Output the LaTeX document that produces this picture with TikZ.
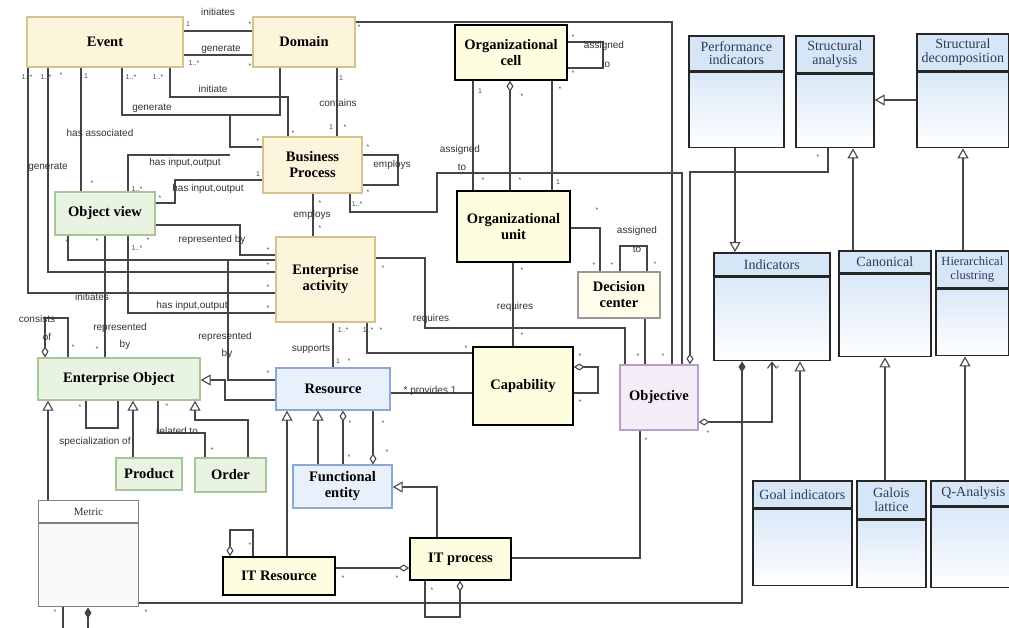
\documentclass[tikz,border=0pt]{standalone}
\usepackage{fontspec}
\setmainfont{Liberation Serif}
\newfontfamily\labelfont{Liberation Sans}
\usetikzlibrary{arrows.meta}

\definecolor{creamfill}{HTML}{FDF4DC}
\definecolor{creamline}{HTML}{D6C28E}
\definecolor{greenfill}{HTML}{E8F3E1}
\definecolor{greenline}{HTML}{A6C698}
\definecolor{bluefill}{HTML}{E8F0FB}
\definecolor{blueline}{HTML}{8CA9D5}
\definecolor{yelfill}{HTML}{FFFDDF}
\definecolor{purfill}{HTML}{F4ECF7}
\definecolor{purline}{HTML}{B6A0C6}
\definecolor{hdrfill}{HTML}{D7E6F7}
\definecolor{bodytop}{HTML}{DAE8F8}
\definecolor{clstext}{HTML}{2C3B5A}
\definecolor{wire}{HTML}{454545}

\tikzset{
  box/.style={rectangle, line width=1.4pt, inner sep=2pt, align=center,
    font=\fontsize{14.5}{16}\selectfont\bfseries},
  cream/.style={box, draw=creamline, fill=creamfill},
  green/.style={box, draw=greenline, fill=greenfill},
  blue/.style={box, draw=blueline, fill=bluefill},
  yel/.style={box, draw=black, line width=1.6pt, fill=yelfill},
  pale/.style={box, draw=gray!80, fill=yelfill!60!white},
  purple/.style={box, draw=purline, fill=purfill},
  hdr/.style={rectangle, draw=black!85, line width=1.7pt, fill=hdrfill, inner sep=1pt,
    align=center, text=clstext, anchor=north west, font=\fontsize{14}{13.5}\selectfont},
  body/.style={rectangle, draw=black!85, line width=1.7pt, top color=bodytop,
    bottom color=white, anchor=north},
  wire/.style={draw=wire, line width=1.1pt},
  gen/.style={wire, -{Triangle[fill=white, length=10pt, width=11pt]}},
  agg/.style={{Diamond[fill=white, length=11pt, width=7pt]}-},
  comp/.style={{Diamond[length=11pt, width=7pt]}-},
  aggnav/.style={{Diamond[fill=white, length=11pt, width=7pt]}-{Straight Barb[length=6pt, width=9pt]}},
  lbl/.style={inner sep=0pt, text=black!80, font=\labelfont\fontsize{10}{11}\selectfont},
  mult/.style={inner sep=0pt, text=black!70, font=\labelfont\fontsize{7}{7}\selectfont}
}

\begin{document}
\begin{tikzpicture}[x=1pt, y=-1pt]
  \path[use as bounding box] (0,0) rectangle (1009,627);
  \clip (0,0) rectangle (1009,627);
  \fill[white] (0,0) rectangle (1009,627);

  % boxes
  \node[cream, minimum width=156pt, minimum height=50pt] (event) at (105,42) {Event};
  \node[cream, minimum width=102pt, minimum height=50pt] (domain) at (304,42) {Domain};
  \node[yel, minimum width=112pt, minimum height=55pt] (orgcell) at (511,52.5) {Organizational\\cell};
  \node[cream, minimum width=99pt, minimum height=56pt] (bp) at (312.5,165) {Business\\Process};
  \node[green, minimum width=100pt, minimum height=43pt] (objview) at (105,213.5) {Object view};
  \node[yel, minimum width=113pt, minimum height=71pt] (orgunit) at (513.5,226.5) {Organizational\\unit};
  \node[cream, minimum width=99pt, minimum height=85pt] (ea) at (325.5,279.5) {Enterprise\\activity};
  \node[pale, minimum width=82pt, minimum height=46pt] (decision) at (619,295) {Decision\\center};
  \node[green, minimum width=162pt, minimum height=42pt] (eo) at (119,379) {Enterprise Object};
  \node[blue, minimum width=114pt, minimum height=42pt] (resource) at (333,389) {Resource};
  \node[yel, minimum width=100pt, minimum height=78pt] (capability) at (523,386) {Capability};
  \node[purple, minimum width=78pt, minimum height=65pt] (objective) at (659,397.5) {Objective};
  \node[green, minimum width=66pt, minimum height=32pt] (product) at (149,474) {Product};
  \node[green, minimum width=71pt, minimum height=34pt] (order) at (230.5,475) {Order};
  \node[blue, minimum width=99pt, minimum height=43pt] (funcent) at (342.5,486.5) {Functional\\entity};
  \node[yel, minimum width=112pt, minimum height=38pt] (itres) at (279,576) {IT Resource};
  \node[yel, minimum width=101pt, minimum height=42pt] (itproc) at (460.5,559) {IT process};

  % class boxes
  \node[hdr, minimum width=95pt, minimum height=35pt] (perf) at (688,35) {Performance\\indicators};
  \node[body, minimum width=95pt, minimum height=75pt] (perfb) at (perf.south) {};
  \node[hdr, minimum width=78pt, minimum height=37pt] (stran) at (795,35) {Structural\\analysis};
  \node[body, minimum width=78pt, minimum height=73pt] (stranb) at (stran.south) {};
  \node[hdr, minimum width=92pt, minimum height=37pt] (stdec) at (916,33) {Structural\\decomposition};
  \node[body, minimum width=92pt, minimum height=75pt] (stdecb) at (stdec.south) {};
  \node[hdr, minimum width=116pt, minimum height=23pt] (ind) at (713,252) {Indicators};
  \node[body, minimum width=116pt, minimum height=83pt] (indb) at (ind.south) {};
  \node[hdr, minimum width=92pt, minimum height=22pt] (canon) at (838,250) {Canonical};
  \node[body, minimum width=92pt, minimum height=82pt] (canonb) at (canon.south) {};
  \node[hdr, minimum width=73pt, minimum height=37pt, font=\fontsize{12.5}{13.5}\selectfont]
    (hier) at (935,250) {Hierarchical\\clustring};
  \node[body, minimum width=73pt, minimum height=66pt] (hierb) at (hier.south) {};
  \node[hdr, minimum width=99pt, minimum height=27pt] (goal) at (752,480) {Goal indicators};
  \node[body, minimum width=99pt, minimum height=76pt] (goalb) at (goal.south) {};
  \node[hdr, minimum width=69pt, minimum height=38pt] (galois) at (856,480) {Galois\\lattice};
  \node[body, minimum width=69pt, minimum height=67pt] (galoisb) at (galois.south) {};
  \node[hdr, minimum width=85pt, minimum height=25pt] (qan) at (930,480) {Q-Analysis};
  \node[body, minimum width=85pt, minimum height=80pt] (qanb) at (qan.south) {};
  \node[hdr, draw=gray, fill=white, text=black!80, line width=1.2pt, minimum width=100pt,
    minimum height=22pt, font=\fontsize{11}{11}\selectfont] (metric) at (38,500) {Metric};
  \node[body, draw=gray, line width=1.2pt, top color=gray!4, bottom color=gray!4,
    minimum width=100pt, minimum height=83pt] (metricb) at (metric.south) {};

  % event, domain, business process
  \draw[wire] (event.east |- 0,31) -- (domain.west |- 0,31);
  \draw[wire] (event.east |- 0,55) -- (domain.west |- 0,55);
  \draw[wire] (domain.east |- 0,22) -| (objective.north -| 672,0);
  \draw[wire] (domain.south -| 337,0) -- (bp.north -| 337,0);
  \draw[wire] (event.south -| 170,0) |- (288,97) -- (bp.north -| 288,0);
  \draw[wire] (event.south -| 122,0) |- (280,115) -- (domain.south -| 280,0);
  \draw[wire] (230,115) |- (bp.west |- 0,147);
  \draw[wire] (objview.north -| 128,0) |- (230,155);
  \draw[wire] (objview.east |- 0,203) -| (175,180) -- (bp.west |- 0,180);
  \draw[wire] (event.south -| 81,0) -- (objview.north -| 81,0);
  \draw[wire] (event.south -| 48,0) |- (ea.west |- 0,272);
  \draw[wire] (event.south -| 28,0) |- (ea.west |- 0,293);
  \draw[wire] (bp.east |- 0,155) -- (398,155) -- (398,185) -- (bp.east |- 0,185);
  \draw[wire] (bp.south -| 350,0) |- (437,212) |- (682,173) -- (objective.north -| 682,0);
  \draw[wire] (bp.south -| 313,0) -- (ea.north -| 313,0);

  % organizational units
  \draw[wire] (orgcell.east |- 0,42) -- (603,42) -- (603,68) -- (orgcell.east |- 0,68);
  \draw[wire] (orgcell.south -| 473,0) -- (orgunit.north -| 473,0);
  \draw[wire, agg] (orgcell.south -| 510,0) -- (orgunit.north -| 510,0);
  \draw[wire] (orgcell.south -| 552,0) -- (orgunit.north -| 552,0);
  \draw[wire] (orgunit.east |- 0,228) -| (decision.north -| 600,0);
  \draw[wire] (decision.north -| 620,0) |- (647,246) -- (decision.north -| 647,0);
  \draw[wire] (orgunit.south -| 513,0) -- (capability.north -| 513,0);
  \draw[wire] (decision.south -| 645,0) -- (objective.north -| 645,0);

  % object view, enterprise object
  \draw[wire] (objview.south -| 68,0) |- (ea.west |- 0,260);
  \draw[wire] (objview.east |- 0,225) -| (240,255) -- (ea.west |- 0,255);
  \draw[wire] (objview.south -| 128,0) |- (ea.west |- 0,313);
  \draw[wire] (objview.south -| 105,0) -- (eo.north -| 105,0);
  \draw[wire] (228,260) |- (resource.west |- 0,380);
  \draw[gen] (resource.west |- 0,400) -| (225,380) -- (eo.east |- 0,380);
  \draw[wire, agg] (eo.north -| 45,0) |- (68,318) -- (eo.north -| 68,0);
  \draw[gen] (metric.north -| 48,0) -- (eo.south -| 48,0);
  \draw[gen] (product.north -| 133,0) -- (eo.south -| 133,0);
  \draw[gen] (order.north -| 248,0) |- (195,420) -- (eo.south -| 195,0);
  \draw[wire] (eo.south -| 86,0) |- (118,428) -- (eo.south -| 118,0);
  \draw[wire] (eo.south -| 158,0) |- (205,433) -- (order.north -| 205,0);
  \draw[wire, comp] (metricb.south -| 88,0) |- (63,640) -- (metricb.south -| 63,0);
  \draw[wire, comp] (indb.south -| 742,0) |- (metricb.east |- 0,603);

  % activity, resource, capability
  \draw[wire] (ea.south -| 333,0) -- (resource.north -| 333,0);
  \draw[wire] (ea.south -| 367,0) |- (capability.west |- 0,353);
  \draw[wire] (ea.east |- 0,258) -| (425,328) -| (objective.north -| 625,0);
  \draw[wire, agg] (capability.east |- 0,367) -| (598,393) -- (capability.east |- 0,393);
  \draw[wire] (resource.east |- 0,393) -- (capability.west |- 0,393);
  \draw[wire, agg] (objective.north -| 690,0) |- (828,172) -- (stranb.south -| 828,0);
  \draw[gen] (itres.north -| 287,0) -- (resource.south -| 287,0);
  \draw[gen] (funcent.north -| 318,0) -- (resource.south -| 318,0);
  \draw[wire, agg] (resource.south -| 343,0) -- (funcent.north -| 343,0);
  \draw[wire, agg] (funcent.north -| 373,0) -- (resource.south -| 373,0);
  \draw[gen] (itproc.north -| 437,0) |- (funcent.east |- 0,487);
  \draw[wire, agg] (itres.north -| 230,0) |- (253,530) -- (itres.north -| 253,0);
  \draw[wire, agg] (itproc.west |- 0,568) -- (itres.east |- 0,568);
  \draw[wire, agg] (itproc.south -| 460,0) |- (425,617) -- (itproc.south -| 425,0);
  \draw[wire] (itproc.east |- 0,558) -| (objective.south -| 640,0);
  \draw[wire, aggnav] (objective.east |- 0,422) -| (indb.south -| 772,0);

  % indicators
  \draw[gen] (perfb.south -| 735,0) -- (ind.north -| 735,0);
  \draw[gen] (goal.north -| 800,0) -- (indb.south -| 800,0);
  \draw[gen] (galois.north -| 885,0) -- (canonb.south -| 885,0);
  \draw[gen] (qan.north -| 965,0) -- (hierb.south -| 965,0);
  \draw[gen] (canon.north -| 853,0) -- (stranb.south -| 853,0);
  \draw[gen] (hier.north -| 963,0) -- (stdecb.south -| 963,0);
  \draw[gen] (stdecb.west |- 0,100) -- (stranb.east |- 0,100);

  % labels
  \foreach \x/\y/\t [count=\i] in {218/12/initiates, 221/49/generate, 213/89/initiate,
      152/108/generate, 100/133/has associated, 48/167/generate, 338/103/contains,
      185/163/{has input,output}, 208/189/{has input,output}, 392/165/employs,
      460/150/assigned, 462/167/to, 604/46/assigned, 606/64/to, 312/215/employs,
      212/240/represented by, 92/297/initiates, 192/306/{has input,output},
      120/328/represented, 125/345/by, 225/337/represented, 227/354/by,
      37/319/consists, 47/337/of, 311/349/supports, 431/319/requires,
      515/307/requires, 637/231/assigned, 637/249/to, 430/391/* provides 1,
      95/442/specialization of, 177/431/related to}
    \node[lbl] (lbl\i) at (\x,\y) {\t};

  % multiplicities
  \foreach \x/\y/\t [count=\i] in {188/24/1, 250/24/*, 194/63/1..*, 250/66/*,
      27/77/1..*, 46/77/1..*, 61/75/*, 86/76/1, 131/77/1..*, 158/77/1..*, 359/27/*,
      573/37/*, 573/73/*, 480/91/1, 522/96/*, 560/89/*, 483/180/*, 520/180/*, 558/182/1,
      341/78/1, 331/127/1, 345/127/*, 293/133/*, 258/141/*, 258/174/1, 368/147/*,
      368/192/*, 357/204/1..*, 92/183/*, 137/189/1..*, 160/198/*, 67/242/*, 97/241/*,
      148/240/*, 137/248/1..*, 268/250/*, 268/265/*, 268/287/*, 268/308/*, 320/203/*,
      320/228/*, 383/268/*, 343/330/1..*, 368/330/1..*, 381/330/*, 338/361/1,
      349/361/*, 466/348/*, 522/270/*, 522/335/*, 597/210/*, 594/265/*, 612/265/*,
      655/264/*, 580/356/*, 580/402/*, 638/356/*, 663/356/*, 268/373/*, 97/349/*,
      73/347/*, 80/407/*, 167/406/*, 212/450/*, 55/612/*, 146/612/*, 350/423/*,
      349/457/*, 383/423/*, 387/452/*, 250/545/*, 343/578/*, 397/578/*, 432/590/*,
      646/440/*, 708/433/*, 778/368/*, 818/157/*}
    \node[mult] (m\i) at (\x,\y) {\t};
\end{tikzpicture}
\end{document}
